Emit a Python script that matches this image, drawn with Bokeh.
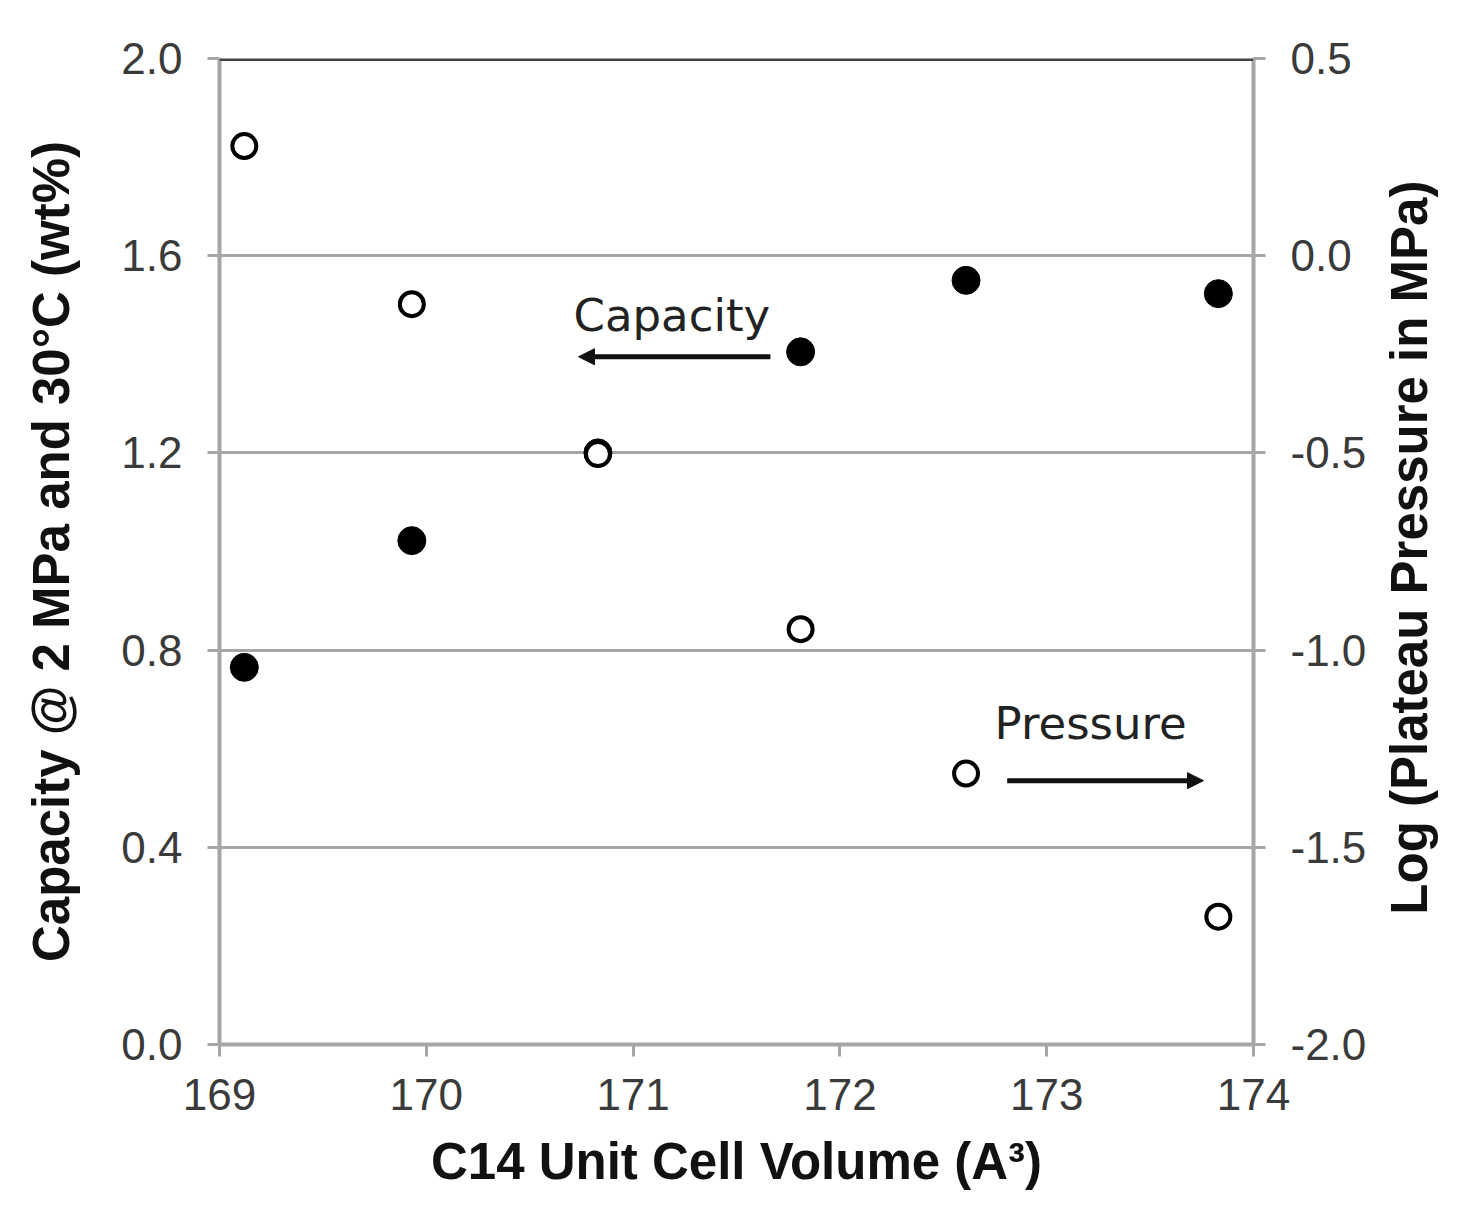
import math
from bokeh.plotting import figure
from bokeh.layouts import row
from bokeh.models import (Range1d, LinearAxis, FixedTicker, Arrow, NormalHead,
                          Span, ColumnDataSource)
from bokeh.core.properties import value
from bokeh.embed import file_html
from bokeh.resources import INLINE

# ---------------- data ----------------
volume = [169.12, 169.93, 170.83, 171.81, 172.61, 173.83]
capacity = [0.765, 1.022, 1.200, 1.405, 1.550, 1.523]
log_pressure = [0.278, -0.123, -0.503, -0.947, -1.313, -1.676]

x_ticks = [169, 170, 171, 172, 173, 174]
x_tick_labels = ["169", "170", "171", "172", "173", "174"]
cap_ticks = [0.0, 0.4, 0.8, 1.2, 1.6, 2.0]
cap_tick_labels = ["0.0", "0.4", "0.8", "1.2", "1.6", "2.0"]
p_ticks = [-2.0, -1.5, -1.0, -0.5, 0.0, 0.5]
p_tick_labels = ["-2.0", "-1.5", "-1.0", "-0.5", "0.0", "0.5"]

x_title = "C14 Unit Cell Volume (A\u00b3)"
left_title = "Capacity @ 2 MPa and 30\u00b0C (wt%)"
right_title = "Log (Plateau Pressure  in MPa)"

# annotation texts and arrows
cap_note = "Capacity"
cap_note_pos = (170.712, 1.478)
cap_arrow = (171.664, 1.395, 170.736, 1.395)   # x_start, y_start, x_end, y_end
pres_note = "Pressure"
pres_note_pos = (172.748, -1.187)
pres_arrow = (172.809, -1.331, 173.758, -1.331)

AX = "#a6a6a6"
TICK_FONT = "Liberation Sans"
MAIN_W = 1370
SIDE_W = 104
H = 1217

p = figure(width=MAIN_W, height=H,
           x_range=Range1d(169, 174), y_range=Range1d(0, 2),
           output_backend="svg", toolbar_location=None,
           min_border_left=219, min_border_right=MAIN_W - 1253,
           min_border_top=58, min_border_bottom=173)
p.extra_y_ranges = {"pressure": Range1d(-2.0, 0.5)}
p.background_fill_color = "white"
p.border_fill_color = "white"
p.outline_line_color = None

# grid
p.xgrid.grid_line_color = None
p.ygrid.ticker = FixedTicker(ticks=[0.4, 0.8, 1.2, 1.6])
p.ygrid.grid_line_color = AX
p.ygrid.grid_line_width = 3

# top border (darker)
p.add_layout(Span(location=2.0, dimension="width", line_color="#444444", line_width=5))


def style_axis(ax, ticks, labels):
    ax.ticker = FixedTicker(ticks=ticks, minor_ticks=[])
    ax.major_label_overrides = {t: l for t, l in zip(ticks, labels)}
    ax.axis_line_color = AX
    ax.axis_line_width = 4
    ax.major_tick_line_color = AX
    ax.major_tick_line_width = 3
    ax.major_tick_out = 12
    ax.major_tick_in = 0
    ax.minor_tick_line_color = None
    ax.major_label_text_font = TICK_FONT
    ax.major_label_text_font_size = "44px"
    ax.major_label_text_color = "#3a3a3a"
    ax.axis_label_text_font = TICK_FONT
    ax.axis_label_text_font_style = "bold"
    ax.axis_label_text_font_size = "51px"
    ax.axis_label_text_color = "#111111"


xa = p.xaxis[0]
style_axis(xa, x_ticks, x_tick_labels)
xa.axis_label = x_title
xa.major_label_standoff = 22
xa.axis_label_standoff = 20

ya = p.yaxis[0]
style_axis(ya, cap_ticks, cap_tick_labels)
ya.axis_label = left_title
ya.major_label_standoff = 25
ya.axis_label_standoff = 38

ra = LinearAxis(y_range_name="pressure")
style_axis(ra, p_ticks, p_tick_labels)
ra.major_label_standoff = 25
p.add_layout(ra, "right")

# data
src = ColumnDataSource(dict(x=volume, cap=capacity, lp=log_pressure))
p.scatter("x", "cap", source=src, marker="circle", size=28,
          fill_color="black", line_color="black", line_width=1)
p.scatter("x", "lp", source=src, y_range_name="pressure", marker="circle",
          size=24, fill_color="white", line_color="black", line_width=4)

# annotations
p.text(x=[cap_note_pos[0]], y=[cap_note_pos[1]], text=[cap_note],
       text_font=value("DejaVu Sans"), text_font_size="45px",
       text_color="#222222", text_baseline="alphabetic", text_align="left")
p.text(x=[pres_note_pos[0]], y=[pres_note_pos[1]], text=[pres_note],
       y_range_name="pressure",
       text_font=value("DejaVu Sans"), text_font_size="45px",
       text_color="#222222", text_baseline="alphabetic", text_align="left")

p.add_layout(Arrow(x_start=cap_arrow[0], y_start=cap_arrow[1],
                   x_end=cap_arrow[2], y_end=cap_arrow[3],
                   line_color="#111111", line_width=5,
                   end=NormalHead(size=16, fill_color="#111111", line_color="#111111")))
p.add_layout(Arrow(x_start=pres_arrow[0], y_start=pres_arrow[1],
                   x_end=pres_arrow[2], y_end=pres_arrow[3],
                   y_range_name="pressure",
                   line_color="#111111", line_width=5,
                   end=NormalHead(size=16, fill_color="#111111", line_color="#111111")))

# right-hand axis title, reading bottom-to-top, in a narrow side panel
q = figure(width=SIDE_W, height=H, x_range=Range1d(0, SIDE_W), y_range=Range1d(0, H),
           output_backend="svg", toolbar_location=None,
           x_axis_location=None, y_axis_location=None, min_border=0)
q.outline_line_color = None
q.xgrid.grid_line_color = None
q.ygrid.grid_line_color = None
q.background_fill_color = "white"
q.border_fill_color = "white"
q.text(x=[1409 - MAIN_W], y=[H - 595], text=[right_title], angle=math.pi / 2,
       text_font=value(TICK_FONT), text_font_style="bold", text_font_size="51px",
       text_color="#111111", text_align="center", text_baseline="middle")

layout = row(p, q, spacing=0)
open("out.html", "w").write(file_html(layout, INLINE))
